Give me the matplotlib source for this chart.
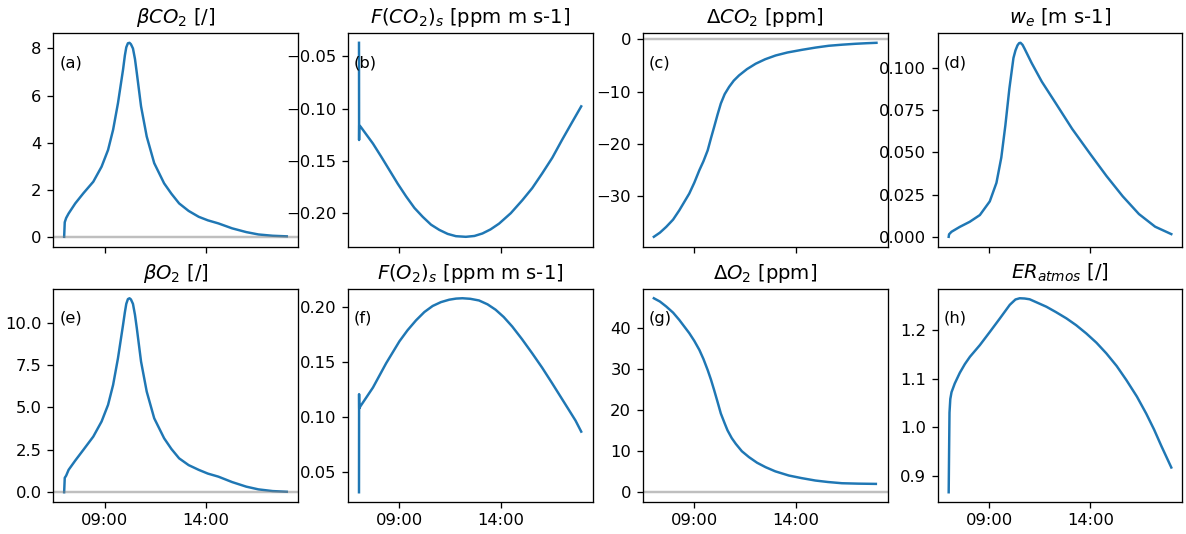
import datetime as dt
import matplotlib
matplotlib.use("Agg")
import matplotlib.pyplot as plt
import matplotlib.dates as mdates

# ---- data (hours of day -> value) ----
hours_a = [7.0, 7.03, 7.1, 7.22, 7.55, 7.95, 8.44, 8.85, 9.17, 9.42, 9.66, 9.91,
           10.0, 10.07, 10.15, 10.23, 10.3, 10.4, 10.5, 10.59, 10.8, 11.08, 11.45,
           11.94, 12.3, 12.68, 13.15, 13.65, 14.1, 14.62, 15.3, 16.0, 16.6, 17.3, 18.0]
beta_co2 = [0.0, 0.62, 0.8, 0.99, 1.42, 1.85, 2.34, 2.98, 3.69, 4.55, 5.68, 7.1,
            7.7, 8.05, 8.22, 8.24, 8.18, 8.0, 7.55, 6.96, 5.54, 4.26, 3.13,
            2.27, 1.83, 1.42, 1.1, 0.85, 0.7, 0.57, 0.36, 0.2, 0.1, 0.045, 0.02]
beta_o2 = [0.0, 0.85, 0.98, 1.32, 1.87, 2.5, 3.28, 4.17, 5.15, 6.33, 7.9, 9.86,
           10.6, 11.1, 11.38, 11.43, 11.36, 11.1, 10.45, 9.67, 7.7, 5.93, 4.36,
           3.18, 2.55, 2.0, 1.6, 1.32, 1.1, 0.92, 0.6, 0.33, 0.17, 0.07, 0.03]

hours_b = [7.0, 7.005, 7.01, 7.07, 7.69, 8.1, 8.51, 8.92, 9.33, 9.74, 10.15, 10.56,
           10.97, 11.38, 11.79, 12.28, 12.7, 13.1, 13.5, 13.92, 14.5, 15.07, 15.56,
           16.05, 16.55, 17.03, 17.5, 17.98]
flux_co2 = [-0.037, -0.13, -0.116, -0.117, -0.1334, -0.146, -0.159, -0.172, -0.184,
            -0.195, -0.2035, -0.211, -0.216, -0.2198, -0.222, -0.2226, -0.2218,
            -0.2194, -0.2155, -0.21, -0.2, -0.1876, -0.176, -0.162, -0.147, -0.130,
            -0.114, -0.0978]

hours_f = [7.0, 7.005, 7.01, 7.07, 7.69, 8.34, 9.0, 9.4, 9.82, 10.23, 10.64, 11.05,
           11.46, 11.8, 12.11, 12.5, 12.93, 13.35, 13.75, 14.15, 14.57, 15.05, 15.56,
           16.05, 16.54, 16.95, 17.36, 17.7, 17.98]
flux_o2 = [0.032, 0.121, 0.108, 0.110, 0.127, 0.149, 0.169, 0.179, 0.188, 0.1955,
           0.201, 0.2045, 0.2067, 0.2077, 0.208, 0.2075, 0.206, 0.2025, 0.1976,
           0.191, 0.1824, 0.171, 0.158, 0.145, 0.131, 0.119, 0.107, 0.097, 0.087]

hours_c = [7.0, 7.3, 7.61, 7.95, 8.26, 8.75, 9.0, 9.25, 9.45, 9.66, 9.82, 9.98, 10.15,
           10.31, 10.5, 10.72, 10.95, 11.21, 11.6, 12.03, 12.5, 13.02, 13.6, 14.33,
           15.0, 15.64, 16.3, 16.95, 17.5, 18.0]
delta_co2 = [-37.9, -37.1, -36.0, -34.6, -32.8, -29.6, -27.5, -25.1, -23.4, -21.3,
             -19.0, -16.8, -14.4, -12.3, -10.5, -9.1, -7.9, -6.9, -5.7, -4.66, -3.8,
             -3.07, -2.5, -1.98, -1.55, -1.21, -1.0, -0.83, -0.72, -0.64]

hours_g = [7.0, 7.3, 7.61, 7.95, 8.26, 8.75, 9.0, 9.25, 9.45, 9.66, 9.82, 9.98, 10.15,
           10.31, 10.5, 10.64, 10.85, 11.05, 11.35, 11.7, 12.1, 12.52, 13.0, 13.67,
           14.3, 14.98, 15.6, 16.3, 17.1, 17.97]
delta_o2 = [47.3, 46.5, 45.3, 43.8, 42.0, 38.8, 36.9, 34.7, 32.5, 29.8, 27.5, 24.9,
            22.0, 19.2, 16.8, 15.1, 13.2, 11.8, 10.0, 8.57, 7.2, 6.12, 5.1, 4.08,
            3.45, 2.86, 2.5, 2.2, 2.1, 2.04]

hours_d = [7.0, 7.02, 7.14, 7.55, 8.04, 8.54, 9.03, 9.36, 9.6, 9.8, 10.0, 10.2, 10.3,
           10.4, 10.48, 10.55, 10.65, 10.75, 11.1, 11.6, 12.3, 13.1, 14.0, 14.8, 15.6,
           16.4, 17.2, 18.0]
w_e = [0.0, 0.0015, 0.003, 0.0059, 0.0089, 0.0129, 0.021, 0.032, 0.047, 0.066,
       0.088, 0.106, 0.1105, 0.1135, 0.1148, 0.115, 0.1138, 0.1115, 0.103, 0.092,
       0.079, 0.064, 0.049, 0.036, 0.024, 0.0135, 0.006, 0.0016]

hours_h = [7.0, 7.02, 7.04, 7.08, 7.14, 7.3, 7.55, 7.8, 8.05, 8.54, 9.03, 9.53, 10.02,
           10.3, 10.51, 10.75, 11.0, 11.4, 11.83, 12.3, 12.82, 13.3, 13.8, 14.3,
           14.79, 15.3, 15.78, 16.3, 16.76, 17.15, 17.5, 18.0]
er_atmos = [0.866, 0.95, 1.03, 1.058, 1.072, 1.09, 1.112, 1.13, 1.145, 1.169, 1.196,
            1.224, 1.252, 1.263, 1.2655, 1.265, 1.2634, 1.256, 1.248, 1.237, 1.224,
            1.21, 1.193, 1.174, 1.152, 1.126, 1.097, 1.063, 1.028, 0.995, 0.962, 0.917]

titles = [r'$\beta CO_2$ [/]', r'$F(CO_2)_s$ [ppm m s-1]', r'$\Delta CO_2$ [ppm]',
          r'$w_e$ [m s-1]', r'$\beta O_2$ [/]', r'$F(O_2)_s$ [ppm m s-1]',
          r'$\Delta O_2$ [ppm]', r'$ER_{atmos}$ [/]']
labels = ['(a)', '(b)', '(c)', '(d)', '(e)', '(f)', '(g)', '(h)']
zero_line = [True, False, True, False, True, False, True, False]

day = dt.datetime(2020, 6, 1)


def to_time(hours):
    return [day + dt.timedelta(hours=h) for h in hours]


series = [(hours_a, beta_co2), (hours_b, flux_co2), (hours_c, delta_co2), (hours_d, w_e),
          (hours_a, beta_o2), (hours_f, flux_o2), (hours_g, delta_o2), (hours_h, er_atmos)]

DPI = 118
fig, axes = plt.subplots(2, 4, figsize=(1186 / DPI, 534 / DPI), dpi=DPI, sharex=True)
fig.subplots_adjust(left=0.0447, right=0.997, top=0.938, bottom=0.060,
                    wspace=0.204, hspace=0.197)

for i, ax in enumerate(axes.flat):
    hrs, vals = series[i]
    ax.plot(to_time(hrs), vals, color='tab:blue', lw=1.5)
    if zero_line[i]:
        ax.axhline(0, color='grey', alpha=0.5, lw=1.5)
    ax.set_title(titles[i], fontsize=12)
    ax.text(0.025, 0.86, labels[i], transform=ax.transAxes, ha='left', va='center',
            fontsize=10)

# the dO2 panel keeps the zero line inside its range
top = max(delta_o2)
axes[1, 2].set_ylim(-0.05 * top, top * 1.05)

ticks = [day + dt.timedelta(hours=9), day + dt.timedelta(hours=14)]
axes[1, 0].set_xticks(ticks)
axes[1, 0].xaxis.set_major_formatter(mdates.DateFormatter('%H:%M'))

plt.savefig('out.png', dpi=DPI)
